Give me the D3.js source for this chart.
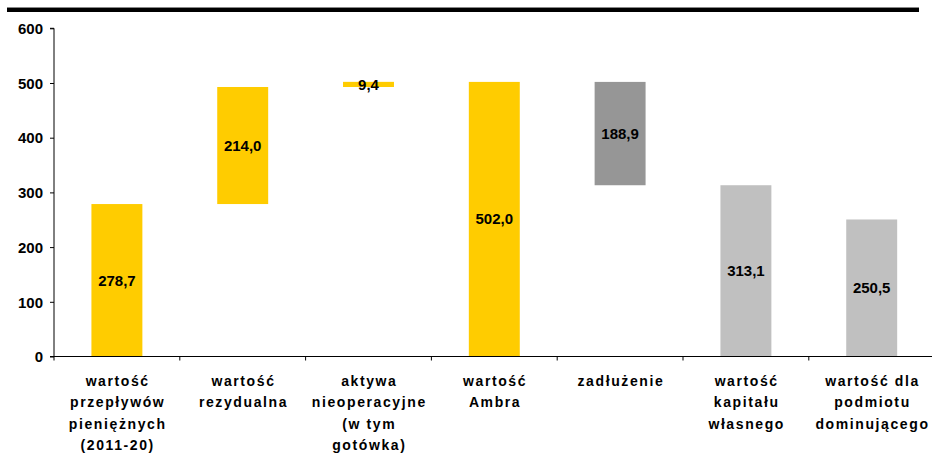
<!DOCTYPE html>
<html>
<head>
<meta charset="utf-8">
<script src="https://cdn.jsdelivr.net/npm/d3@7"></script>
<style>
  html, body { margin: 0; padding: 0; background: #fff; }
  svg { display: block; font-family: "Liberation Sans", Arial, sans-serif; }
</style>
</head>
<body>
<svg id="chart" width="932" height="462"></svg>
<script>
// Waterfall: steps of the valuation bridge
const categories = [
  ["wartość", "przepływów", "pieniężnych", "(2011-20)"],
  ["wartość", "rezydualna"],
  ["aktywa", "nieoperacyjne", "(w tym", "gotówka)"],
  ["wartość", "Ambra"],
  ["zadłużenie"],
  ["wartość", "kapitału", "własnego"],
  ["wartość dla", "podmiotu", "dominującego"]
];
const values = [278.7, 214.0, 9.4, 502.0, -188.9, 313.1, 250.5];
// "step" bars float on the running total, "total" bars start at zero
const kinds = ["step", "step", "step", "total", "step", "total", "total"];
const yTicks = [0, 100, 200, 300, 400, 500, 600];

const fills = ["#FFCC00", "#FFCC00", "#FFCC00", "#FFCC00", "#969696", "#C0C0C0", "#C0C0C0"];

// running totals → bar extents
let running = 0;
const bars = values.map((v, i) => {
  let lo, hi;
  if (kinds[i] === "total") {
    lo = 0; hi = v; running = v;
  } else {
    const next = running + v;
    lo = Math.min(running, next); hi = Math.max(running, next);
    running = next;
  }
  return { i, v, lo, hi };
});

const svg = d3.select("#chart");
const plotL = 54, plotR = 934.6, plotT = 28.3, plotB = 356.5;

const x = d3.scaleBand().domain(d3.range(categories.length)).range([plotL, plotR]).padding(0);
const y = d3.scaleLinear().domain([0, 600]).range([plotB, plotT]);
const barW = x.bandwidth() * 0.405;

// heavy rule across the top
svg.append("rect").attr("x", 7).attr("y", 8).attr("width", 912).attr("height", 4).attr("fill", "#000");
svg.append("rect").attr("x", 7).attr("y", 7).attr("width", 912).attr("height", 1).attr("fill", "#888");

// bars
svg.append("g").selectAll("rect").data(bars).join("rect")
  .attr("x", d => x(d.i) + x.bandwidth() / 2 - barW / 2)
  .attr("width", barW)
  .attr("y", d => y(d.hi))
  .attr("height", d => y(d.lo) - y(d.hi))
  .attr("fill", d => fills[d.i]);

// y axis
const yAxis = svg.append("g").attr("transform", `translate(${plotL},0)`)
  .call(d3.axisLeft(y).tickValues(yTicks).tickSize(4).tickPadding(7).tickFormat(d3.format("d")));
yAxis.select(".domain").attr("stroke", "#000").attr("d", `M-4,${plotB}H0V${plotT}H-4`);
yAxis.selectAll(".tick line").attr("stroke", "#000");
yAxis.selectAll(".tick text").attr("fill", "#000")
  .style("font-size", "15px").style("font-weight", "bold").attr("dy", "0.35em");

// x axis line and tick marks between categories
const xg = svg.append("g");
xg.append("line").attr("x1", plotL).attr("x2", plotR).attr("y1", plotB).attr("y2", plotB).attr("stroke", "#000");
xg.selectAll("line.tk").data(d3.range(categories.length)).join("line").attr("class", "tk")
  .attr("x1", d => x(d)).attr("x2", d => x(d))
  .attr("y1", plotB).attr("y2", plotB + 4).attr("stroke", "#000");

// category labels
const fmt = v => d3.format(".1f")(Math.abs(v)).replace(".", ",");
const cat = svg.append("g").selectAll("text").data(categories).join("text")
  .attr("text-anchor", "middle")
  .attr("fill", "#000")
  .style("font-size", "14px").style("font-weight", "bold").style("letter-spacing", "1.6px");
cat.each(function(lines, i) {
  d3.select(this).selectAll("tspan").data(lines).join("tspan")
    .attr("x", x(i) + x.bandwidth() / 2 + 0.8)
    .attr("y", (d, k) => 386 + k * 21.3)
    .text(d => d);
});

// value labels in bar centres
svg.append("g").selectAll("text").data(bars).join("text")
  .attr("x", d => x(d.i) + x.bandwidth() / 2)
  .attr("y", d => (y(d.lo) + y(d.hi)) / 2)
  .attr("dy", "0.35em")
  .attr("text-anchor", "middle")
  .attr("fill", "#000")
  .style("font-size", "15px").style("font-weight", "bold")
  .text(d => fmt(d.v));
</script>
</body>
</html>
